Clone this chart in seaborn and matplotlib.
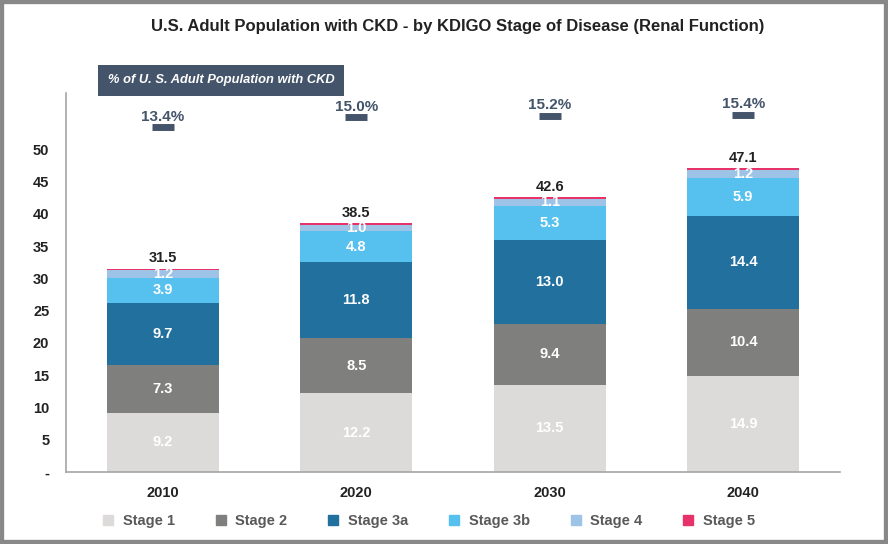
import numpy as np
import pandas as pd
import matplotlib
matplotlib.use("Agg")
import matplotlib.pyplot as plt
from matplotlib.patches import Rectangle
import seaborn as sns

# data
years = ["2010", "2020", "2030", "2040"]
stages = ["Stage 1", "Stage 2", "Stage 3a", "Stage 3b", "Stage 4", "Stage 5"]
stage1 = [9.2, 12.2, 13.5, 14.9]
stage2 = [7.3, 8.5, 9.4, 10.4]
stage3a = [9.7, 11.8, 13.0, 14.4]
stage3b = [3.9, 4.8, 5.3, 5.9]
stage4 = [1.2, 1.0, 1.1, 1.2]
stage5 = [0.2, 0.2, 0.3, 0.3]
totals = [31.5, 38.5, 42.6, 47.1]
pct_adult = [13.4, 15.0, 15.2, 15.4]

colors = ["#dcdbd9", "#7f7f7e", "#22709e", "#56c1ee", "#9dc3e6", "#e8336a"]
slate = "#44546a"

sns.set_theme(style="white")
plt.rcParams["font.family"] = ["Liberation Sans", "DejaVu Sans"]

df = pd.DataFrame({"year": years, "Stage 1": stage1, "Stage 2": stage2,
                   "Stage 3a": stage3a, "Stage 3b": stage3b,
                   "Stage 4": stage4, "Stage 5": stage5})
cum = df[stages].cumsum(axis=1)

fig = plt.figure(figsize=(8.88, 5.44), dpi=100)
ax = fig.add_axes([66 / 888, 1 - 472 / 544, (840 - 66) / 888, (472 - 93) / 544])

# stacked bars: draw cumulative heights from the top stage down
for i in range(len(stages) - 1, -1, -1):
    sns.barplot(x=df["year"], y=cum[stages[i]], color=colors[i], width=0.58,
                saturation=1, ax=ax, linewidth=0)

# segment labels
for j in range(len(years)):
    bottom = 0
    for i, st in enumerate(stages[:5]):
        v = df[st][j]
        ax.text(j, bottom + v / 2, f"{v:.1f}", ha="center", va="center",
                color="white", fontsize=10.5, fontweight="bold")
        bottom += v
    ax.text(j, totals[j] + 0.5, f"{totals[j]:.1f}", ha="center", va="bottom",
            color="#222222", fontsize=10.5, fontweight="bold")

ax.set_xlim(-0.5, 3.5)
ax.set_ylim(0, 58.7)
ax.set_yticks(range(0, 55, 5))
ax.set_yticklabels(["-"] + [str(v) for v in range(5, 55, 5)])
ax.set_xlabel("")
ax.set_ylabel("")
ax.tick_params(axis="both", length=0, labelsize=10.5, colors="#222222")
ax.tick_params(axis="x", pad=10)
ax.tick_params(axis="y", pad=12)
for lab in ax.get_xticklabels() + ax.get_yticklabels():
    lab.set_fontweight("bold")
for s in ["top", "right"]:
    ax.spines[s].set_visible(False)
for s in ["left", "bottom"]:
    ax.spines[s].set_color("#a6a6a6")
    ax.spines[s].set_linewidth(1.2)

# percentage of adult population markers on a hidden secondary axis
ax2 = ax.twinx()
ax2.plot(range(len(years)), pct_adult, linestyle="none", marker="_",
         markersize=16, markeredgewidth=5, color=slate)
for j, p in enumerate(pct_adult):
    ax2.text(j, p + 0.55, f"{p:.1f}%", ha="center", va="bottom",
             color=slate, fontsize=11, fontweight="bold")
ax2.set_ylim(-41.8, 18.84)
ax2.axis("off")

# legend
handles = [plt.Line2D([], [], linestyle="none", marker="s", markersize=7,
                      color=c) for c in colors]
leg = fig.legend(handles, stages, loc="center", bbox_to_anchor=(0.482, 1 - 521 / 544),
                 ncol=6, frameon=False, fontsize=10.5, handletextpad=0.5,
                 columnspacing=2.65, handlelength=1.0)
for t in leg.get_texts():
    t.set_color("#595959")
    t.set_fontweight("bold")

# label box
fig.text(108 / 888, 1 - 80.5 / 544, "% of U. S. Adult Population with CKD",
         ha="left", va="center", color="white", fontsize=9.3,
         fontweight="bold", fontstyle="italic",
         bbox=dict(boxstyle="square,pad=0.75", facecolor=slate, edgecolor="none"))

fig.suptitle("U.S. Adult Population with CKD - by KDIGO Stage of Disease (Renal Function)",
             x=0.515, y=1 - 27 / 544, va="center", fontsize=12, fontweight="bold",
             color="#222222")

# outer frame
fig.patches.append(Rectangle((0, 0), 1, 1, transform=fig.transFigure, fill=False,
                             edgecolor="#888888", linewidth=6, zorder=10))

fig.savefig("out.png", dpi=100)
